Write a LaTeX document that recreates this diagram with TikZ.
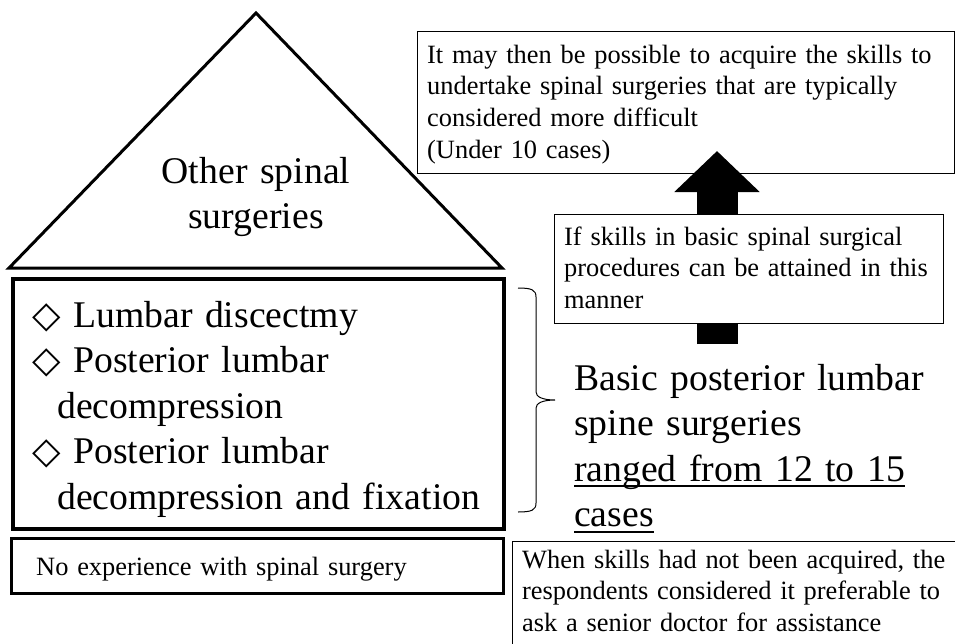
\documentclass[tikz,border=0pt]{standalone}
\usepackage{fontspec}
\setmainfont{Liberation Serif}
\newfontfamily\symfont{DejaVu Sans}
\usetikzlibrary{arrows.meta, positioning, calc}
\newcommand{\dia}{{\symfont\fontsize{37}{37}\selectfont ◇}}
\newcommand{\undline}[1]{\leavevmode{\setbox0\hbox{#1}\rlap{\rule[-6pt]{\wd0}{1.6pt}}\box0}}
\tikzset{
  box/.style={rectangle, draw=black, fill=white, anchor=north west, inner sep=0pt, line width=1pt},
  bigtxt/.style={font=\fontsize{37.7}{45.5}\selectfont, inner sep=0pt, align=left, anchor=base west},
  smalltxt/.style={font=\fontsize{26.4}{31.8}\selectfont, inner sep=0pt, align=left, anchor=base west},
  blockarrow/.style={line width=41pt, -{Triangle[width=83pt, length=41pt]}},
  bracket/.style={line width=1pt},
}

\begin{document}
\begin{tikzpicture}[x=1pt, y=-1pt]
    \useasboundingbox (0,0) rectangle (955,643);
    \clip (0,0) rectangle (955,643);
    % pyramid top
    \coordinate (apex) at (256,13);
    \coordinate (baseL) at (9,268);
    \coordinate (baseR) at (502,268);
    \draw[line width=3pt] (apex) -- (baseL) -- (baseR) -- cycle;
    \node[bigtxt, text width=240pt, align=center, anchor=base] (othertxt) at (256,183) {Other spinal\\surgeries};
    % basic surgeries box
    \node[box, line width=4pt, minimum width=491pt, minimum height=250pt] (basic) at (11,277) {};
    \node[bigtxt, text width=470pt] (basictxt) at (32,327)
      {\dia\ Lumbar discectmy\\ \dia\ Posterior lumbar\\ \hspace*{25pt}decompression\\ \dia\ Posterior lumbar\\ \hspace*{25pt}decompression and fixation};
    \node[box, line width=2.5pt, minimum width=492pt, minimum height=55pt] (noexp) at (10,537) {};
    \node[smalltxt, text width=460pt] (noexptxt) at ($(noexp.north west)+(26,38)$) {No experience with spinal surgery};
    % right column
    \node[box, minimum width=537pt, minimum height=142pt] (goal) at (417,31) {};
    \node[smalltxt, text width=530pt] (goaltxt) at ($(goal.north west)+(10,32)$)
      {It may then be possible to acquire the skills to\\ undertake spinal surgeries that are typically\\ considered more difficult\\ (Under 10 cases)};
    \coordinate (foot) at (717,344);
    \coordinate (tip) at (717,151);
    \draw[blockarrow] (foot) -- (tip);
    \node[box, minimum width=389pt, minimum height=109pt] (attain) at (554,214) {};
    \node[smalltxt, text width=380pt] (attaintxt) at ($(attain.north west)+(10,31)$)
      {If skills in basic spinal surgical\\ procedures can be attained in this\\ manner};
    % brace
    \coordinate (braceTop) at (518,288);
    \coordinate (braceTip) at (555,400);
    \coordinate (braceBot) at (518,512);
    \draw[bracket] (braceTop) .. controls +(14,0) and +(0,-7) .. ++(18,9) -- ++(0,95)
      .. controls +(0,5) and +(-12,0) .. (braceTip)
      .. controls +(-12,0) and +(0,-5) .. ++(-19,8) -- ++(0,95)
      .. controls +(0,7) and +(14,0) .. (braceBot);
    \node[bigtxt, text width=375pt] (rangetxt) at (574,390)
      {Basic posterior lumbar\\ spine surgeries\\ \undline{ranged from 12 to 15}\\ \undline{cases}};
    \node[box, minimum width=460pt, minimum height=120pt] (senior) at (512,541) {};
    \node[smalltxt, text width=440pt] (seniortxt) at ($(senior.north west)+(10,27)$)
      {When skills had not been acquired, the\\ respondents considered it preferable to\\ ask a senior doctor for assistance};
\end{tikzpicture}
\end{document}
